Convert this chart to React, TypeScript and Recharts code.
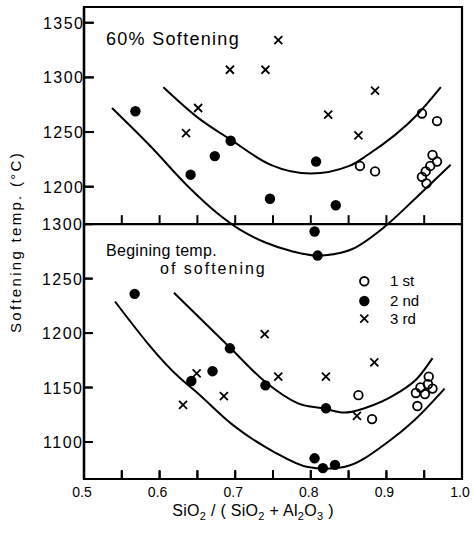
import React from 'react';
import { ComposedChart, Line, Scatter, XAxis, YAxis, ReferenceArea, ReferenceLine, Legend } from 'recharts';

const W = 475;
const H = 534;
const FONT = '"Liberation Sans", Arial, Helvetica, sans-serif';

// ---- axes ----
const xTicks = [0.5, 0.55, 0.6, 0.65, 0.7, 0.75, 0.8, 0.85, 0.9, 0.95, 1.0];
const xLabelTicks = [0.5, 0.6, 0.7, 0.8, 0.9, 1.0];
const dividerTicks = [0.55, 0.6, 0.65, 0.7, 0.75, 0.8, 0.85, 0.9, 0.95];
const topYTicks = [1200, 1250, 1300, 1350];
const bottomYTicks = [1100, 1150, 1200, 1250, 1300];
const xDomain = [0.5, 1.0];
const topYDomain = [932.6, 1364.4]; // upper-panel scale (60 % softening)
const bottomYDomain = [1066, 1499.4]; // lower-panel scale (beginning of softening)
const dividerValue = 1300; // panel border, on the lower-panel scale
const seriesNames = ['1 st', '2 nd', '3 rd'];

// ---- 60 % softening (upper panel) ----
const topFirstX = [0.865, 0.885, 0.947, 0.967, 0.961, 0.967, 0.958, 0.952, 0.947, 0.953];
const topFirstY = [1219, 1214, 1267, 1260, 1229, 1223, 1219, 1214, 1209, 1203];
const topSecondX = [0.568, 0.641, 0.673, 0.694, 0.746, 0.807, 0.833, 0.805, 0.809];
const topSecondY = [1269, 1211, 1228, 1242, 1189, 1223, 1183, 1159, 1137];
const topThirdX = [0.635, 0.651, 0.693, 0.740, 0.757, 0.823, 0.863, 0.885];
const topThirdY = [1249, 1272, 1307, 1307, 1334, 1266, 1247, 1288];
const topUpperCurveX = [0.605, 0.651, 0.694, 0.747, 0.800, 0.851, 0.875, 0.941, 0.972];
const topUpperCurveY = [1291, 1263, 1243, 1220, 1212, 1219, 1229, 1266, 1291];
const topLowerCurveX = [0.537, 0.588, 0.638, 0.676, 0.708, 0.740, 0.775, 0.808, 0.822, 0.855, 0.897, 0.941, 0.985];
const topLowerCurveY = [1272, 1237, 1200, 1176, 1160, 1149, 1141, 1137, 1137.5, 1143, 1163, 1191, 1220];

// ---- beginning temp. of softening (lower panel) ----
const botFirstX = [0.863, 0.881, 0.956, 0.955, 0.945, 0.961, 0.939, 0.951, 0.941];
const botFirstY = [1143, 1121, 1160, 1153, 1150, 1149, 1145, 1144, 1133];
const botSecondX = [0.567, 0.642, 0.670, 0.693, 0.740, 0.820, 0.805, 0.816, 0.832];
const botSecondY = [1236, 1156, 1165, 1186, 1152, 1131, 1085, 1076, 1079];
const botThirdX = [0.631, 0.649, 0.685, 0.739, 0.757, 0.820, 0.861, 0.884];
const botThirdY = [1134, 1163, 1142, 1199, 1160, 1160, 1124, 1173];
const botUpperCurveX = [0.619, 0.694, 0.740, 0.783, 0.818, 0.844, 0.871, 0.915, 0.941, 0.961];
const botUpperCurveY = [1237, 1186, 1155, 1135.5, 1130.6, 1127, 1131, 1145, 1158.5, 1177];
const botLowerCurveX = [0.541, 0.628, 0.646, 0.698, 0.751, 0.796, 0.820, 0.844, 0.902, 0.937, 0.977];
const botLowerCurveY = [1229, 1158, 1147.5, 1115, 1091, 1077, 1075.5, 1077, 1100, 1120, 1149];

const pts = (xs: number[], ys: number[]) => xs.map((x, i) => ({ x, y: ys[i] }));
const dividerTickData = dividerTicks.map((x) => ({ x, y: dividerValue }));

// ---- marks ----
const OpenCircle = (p: any) => (
  <circle cx={p.cx} cy={p.cy} r={4.3} fill="none" stroke="#000" strokeWidth={1.8} />
);
const FilledCircle = (p: any) => <circle cx={p.cx} cy={p.cy} r={5.2} fill="#000" />;
const Cross = (p: any) => (
  <path
    d={`M${p.cx - 4},${p.cy - 4}L${p.cx + 4},${p.cy + 4}M${p.cx - 4},${p.cy + 4}L${p.cx + 4},${p.cy - 4}`}
    stroke="#000"
    strokeWidth={1.8}
    fill="none"
  />
);
const UpTick = (p: any) => (
  <path d={`M${p.cx},${p.cy}L${p.cx},${p.cy - 9}`} stroke="#000" strokeWidth={2} fill="none" />
);

// ---- tick marks + labels (axes are mirrored so their tick lines point inward) ----
const TICK = 8;
const MARGIN = 1;
const XTickLabel = (props: any) => {
  const { x, y, payload } = props;
  const v = payload.value as number;
  const axisY = y + TICK + MARGIN;
  const major = xLabelTicks.some((t) => Math.abs(t - v) < 1e-6);
  return (
    <g>
      <path d={`M${x},${axisY}L${x},${axisY - 9}`} stroke="#000" strokeWidth={2} fill="none" />
      {major && (
        <text x={x - 2} y={axisY + 18} textAnchor="middle" fontSize={14} fontFamily={FONT} fill="#000">
          {v.toFixed(1)}
        </text>
      )}
    </g>
  );
};
const YTickLabel = (props: any) => {
  const { x, y, payload } = props;
  const axisX = x - TICK - MARGIN;
  return (
    <g>
      <path d={`M${axisX},${y}L${axisX + 9},${y}`} stroke="#000" strokeWidth={2} fill="none" />
      <text x={axisX - 0.5} y={y + 6} textAnchor="end" fontSize={16} letterSpacing={1.5} fontFamily={FONT} fill="#000">
        {payload.value}
      </text>
    </g>
  );
};

const LegendBox = () => (
  <svg width={90} height={62} style={{ display: 'block' }}>
    <OpenCircle cx={9.3} cy={11.3} />
    <FilledCircle cx={9.3} cy={31} />
    <Cross cx={9.3} cy={48.7} />
    {seriesNames.map((n, i) => (
      <text key={n} x={35} y={[16, 35.5, 54][i]} fontSize={15} fontFamily={FONT} fill="#000">
        {n}
      </text>
    ))}
  </svg>
);

const curve = { type: 'monotone' as const, stroke: '#000', strokeWidth: 2, dot: false, isAnimationActive: false };
const tickLineStyle = { stroke: '#000', strokeWidth: 2 };

export default function App() {
  return (
    <div style={{ position: 'absolute', left: 0, top: 0, width: W, height: H, background: '#fff' }}>
      <ComposedChart width={W} height={H} margin={{ top: 7, right: 13, bottom: 55, left: 84 }}>
        <XAxis
          dataKey="x"
          type="number"
          domain={xDomain}
          allowDataOverflow
          ticks={xTicks}
          interval={0}
          mirror
          height={1}
          tickSize={TICK}
          tickMargin={MARGIN}
          tickLine={tickLineStyle}
          axisLine={{ stroke: '#000', strokeWidth: 2.2 }}
          tick={(p: any) => <XTickLabel {...p} />}
        />
        <YAxis
          yAxisId="top"
          type="number"
          mirror
          width={1}
          domain={topYDomain}
          allowDataOverflow
          ticks={topYTicks}
          interval={0}
          tickSize={TICK}
          tickMargin={MARGIN}
          tickLine={tickLineStyle}
          axisLine={false}
          tick={(p: any) => <YTickLabel {...p} />}
        />
        <YAxis
          yAxisId="bottom"
          type="number"
          mirror
          width={1}
          domain={bottomYDomain}
          allowDataOverflow
          ticks={bottomYTicks}
          interval={0}
          tickSize={TICK}
          tickMargin={MARGIN}
          tickLine={tickLineStyle}
          axisLine={{ stroke: '#000', strokeWidth: 2.4 }}
          tick={(p: any) => <YTickLabel {...p} />}
        />
        <ReferenceArea
          yAxisId="top"
          x1={xDomain[0]}
          x2={xDomain[1]}
          y1={topYDomain[0]}
          y2={topYDomain[1]}
          fill="none"
          fillOpacity={0}
          stroke="#000"
          strokeWidth={2.2}
          ifOverflow="visible"
        />
        <ReferenceLine yAxisId="bottom" y={dividerValue} stroke="#000" strokeWidth={2.2} />

        {/* upper panel */}
        <Line yAxisId="top" data={pts(topUpperCurveX, topUpperCurveY)} dataKey="y" {...curve} />
        <Line yAxisId="top" data={pts(topLowerCurveX, topLowerCurveY)} dataKey="y" {...curve} />
        <Scatter yAxisId="top" data={pts(topFirstX, topFirstY)} dataKey="y" shape={OpenCircle} isAnimationActive={false} />
        <Scatter yAxisId="top" data={pts(topSecondX, topSecondY)} dataKey="y" shape={FilledCircle} isAnimationActive={false} />
        <Scatter yAxisId="top" data={pts(topThirdX, topThirdY)} dataKey="y" shape={Cross} isAnimationActive={false} />

        {/* lower panel */}
        <Line yAxisId="bottom" data={pts(botUpperCurveX, botUpperCurveY)} dataKey="y" {...curve} />
        <Line yAxisId="bottom" data={pts(botLowerCurveX, botLowerCurveY)} dataKey="y" {...curve} />
        <Scatter yAxisId="bottom" data={pts(botFirstX, botFirstY)} dataKey="y" name={seriesNames[0]} shape={OpenCircle} isAnimationActive={false} />
        <Scatter yAxisId="bottom" data={pts(botSecondX, botSecondY)} dataKey="y" name={seriesNames[1]} shape={FilledCircle} isAnimationActive={false} />
        <Scatter yAxisId="bottom" data={pts(botThirdX, botThirdY)} dataKey="y" name={seriesNames[2]} shape={Cross} isAnimationActive={false} />

        {/* tick marks along the panel divider */}
        <Scatter yAxisId="bottom" data={dividerTickData} dataKey="y" shape={UpTick} isAnimationActive={false} />

        <Legend
          layout="vertical"
          align="center"
          verticalAlign="middle"
          content={() => <LegendBox />}
          wrapperStyle={{ position: 'absolute', left: 355, top: 270, width: 90, height: 62 }}
        />

        <text x={106} y={45} fontSize={18} letterSpacing={1.3} fontFamily={FONT} fill="#000">60% Softening</text>
        <text x={106} y={255.5} fontSize={16} letterSpacing={0.3} fontFamily={FONT} fill="#000">Begining temp.</text>
        <text x={160} y={273.7} fontSize={16} letterSpacing={2} fontFamily={FONT} fill="#000">of softening</text>
        <text transform="translate(21,242) rotate(-90)" textAnchor="middle" fontSize={15} letterSpacing={2.3} fontFamily={FONT} fill="#000">
          Softening temp. (°C)
        </text>
        <text x={253} y={516} textAnchor="middle" fontSize={16} letterSpacing={0.3} fontFamily={FONT} fill="#000">
          SiO<tspan dy={4} fontSize={11}>2</tspan>
          <tspan dy={-4}>{' /  ( SiO'}</tspan>
          <tspan dy={4} fontSize={11}>2</tspan>
          <tspan dy={-4}>{' + Al'}</tspan>
          <tspan dy={4} fontSize={11}>2</tspan>
          <tspan dy={-4}>O</tspan>
          <tspan dy={4} fontSize={11}>3</tspan>
          <tspan dy={-4}>{' )'}</tspan>
        </text>
      </ComposedChart>
    </div>
  );
}
